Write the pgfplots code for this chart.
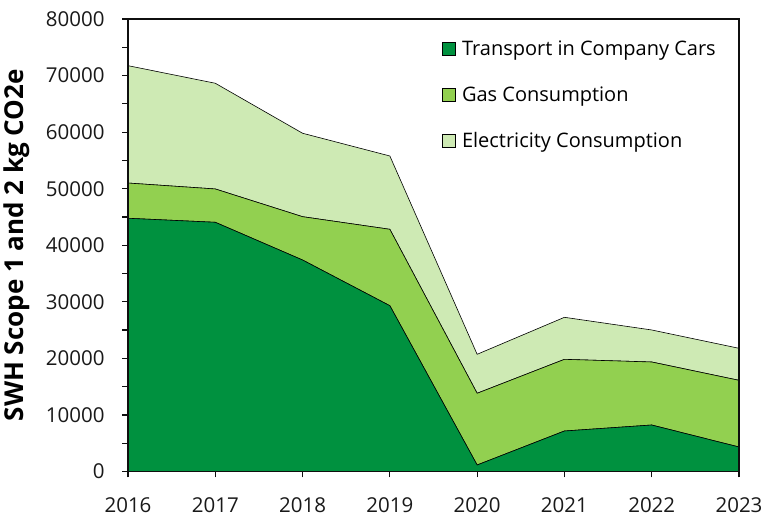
\documentclass[border=0pt]{standalone}
\usepackage{pgfplots}
\pgfplotsset{compat=1.18}
\usepackage{fontspec}
\setmainfont{Open Sans}
\definecolor{cTrans}{RGB}{0,145,63}
\definecolor{cGas}{RGB}{146,208,80}
\definecolor{cElec}{RGB}{206,234,180}
\definecolor{frameC}{RGB}{15,15,15}
\begin{document}
\begin{tikzpicture}
\begin{axis}[name=ax, scale only axis, width=611pt, height=452.5pt,
 xmin=2016, xmax=2023, ymin=0, ymax=80000,
 xtick={2016,2017,2018,2019,2020,2021,2022,2023},
 ytick={0,10000,20000,30000,40000,50000,60000,70000,80000},
 minor ytick={5000,15000,25000,35000,45000,55000,65000,75000},
 tick align=outside, xtick pos=bottom, ytick pos=left,
 axis line style={line width=1.4pt, draw=frameC},
 tick style={line width=1.2pt, frameC},
 major tick length=6pt, minor tick length=6pt,
 /pgf/number format/assume math mode=true,
 /pgf/number format/1000 sep={},
 scaled y ticks=false,
 clip=false,
 ticklabel style={font=\fontsize{20.5}{24}\selectfont, text=black!90},
 yticklabel style={xshift=-14pt},
 xticklabel style={yshift=-17pt},
 ylabel={SWH Scope 1 and 2 kg CO2e},
 ylabel style={at={(axis description cs:-0.1817,0.5)}, anchor=center, font=\bfseries\fontsize{26}{30}\selectfont},
 stack plots=y, area style,
 legend cell align=left,
 legend style={draw=none, fill=none, at={(0.51,0.962)}, anchor=north west,
   font=\fontsize{20}{24}\selectfont, row sep=26pt, inner sep=2pt},
 legend image code/.code={\draw[#1, draw=black, line width=0.5pt] (0pt,-6.5pt) rectangle (13pt,6.5pt); \path[draw=none, fill=none] (0pt,0pt) -- (18pt,0pt);},
]
\addplot[fill=cTrans, draw=black, line width=0.6pt] coordinates {(2016,44770) (2017,44060) (2018,37390) (2019,29310) (2020,1150) (2021,7160) (2022,8220) (2023,4330)} \closedcycle;
\addlegendentry{Transport in Company Cars}
\addplot[fill=cGas, draw=black, line width=0.6pt] coordinates {(2016,6230) (2017,5890) (2018,7660) (2019,13510) (2020,12680) (2021,12670) (2022,11140) (2023,11790)} \closedcycle;
\addlegendentry{Gas Consumption}
\addplot[fill=cElec, draw=black, line width=0.6pt] coordinates {(2016,20750) (2017,18690) (2018,14750) (2019,12960) (2020,6890) (2021,7430) (2022,5660) (2023,5660)} \closedcycle;
\addlegendentry{Electricity Consumption}
\draw[frameC, line width=1.6pt] (rel axis cs:0,0) -- (rel axis cs:0,1) -- (rel axis cs:1,1) -- (rel axis cs:1,0) -- cycle;
\end{axis}
\pgfresetboundingbox
\path[use as bounding box] ([xshift=-128pt,yshift=-50.5pt]ax.south west) rectangle ([xshift=28pt,yshift=19pt]ax.north east);
\end{tikzpicture}
\end{document}
